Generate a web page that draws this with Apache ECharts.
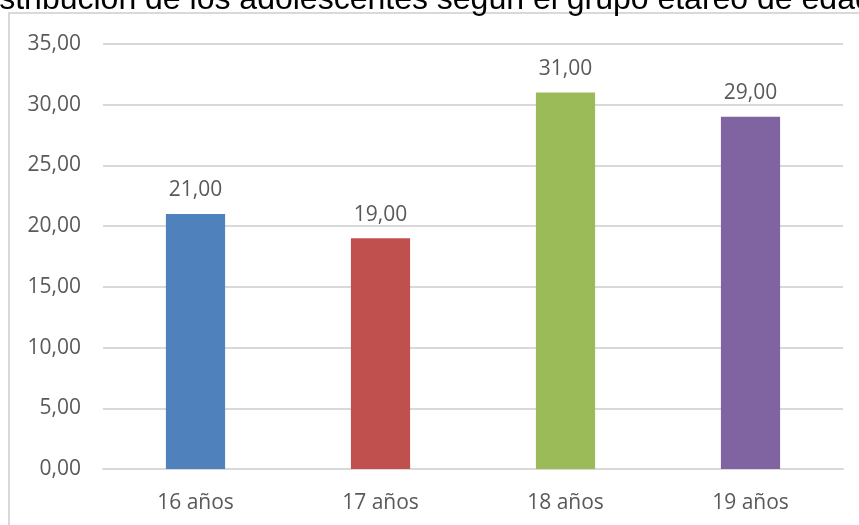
<!DOCTYPE html>
<html>
<head>
<meta charset="utf-8">
<script src="https://cdn.jsdelivr.net/npm/echarts@6/dist/echarts.min.js"></script>
<style>
  html, body { margin: 0; padding: 0; background: #fff; }
  #chart { width: 859px; height: 525px; }
</style>
</head>
<body>
<div id="chart"></div>
<script>
// data
const titleText = 'Distribución de los adolescentes según el grupo etáreo de edad';
const categories = ['16 años', '17 años', '18 años', '19 años'];
const values = [21, 19, 31, 29];
const barColors = ['#4F81BD', '#C0504D', '#9BBB59', '#8064A2'];
const yTicks = { min: 0, max: 35, interval: 5 };

const fmt = v => Number(v).toFixed(2).replace('.', ',');
const textColor = '#595959';
const gridColor = '#d9d9d9';
const font = '"Open Sans", sans-serif';

const chart = echarts.init(document.getElementById('chart'));

const option = {
    animation: false,
    backgroundColor: '#fff',
    grid: {
        left: 103,
        right: 16,
        top: 44,
        bottom: 56
    },
    graphic: [
        {
            // chart frame, only its left and top edges are on screen
            type: 'rect',
            shape: { x: 9, y: 13, width: 1200, height: 1200 },
            style: { fill: 'none', stroke: gridColor, lineWidth: 2 },
            z: 0
        },
        {
            type: 'text',
            x: -31,
            y: 0,
            style: {
                text: titleText,
                font: '32px "Liberation Sans", Arial, sans-serif',
                fill: '#000',
                verticalAlign: 'middle'
            },
            z: 10
        }
    ],
    xAxis: {
        type: 'category',
        data: categories,
        axisTick: { show: false },
        axisLine: { lineStyle: { color: gridColor, width: 2 } },
        axisLabel: {
            color: textColor,
            fontFamily: font,
            fontSize: 21,
            margin: 24
        }
    },
    yAxis: {
        type: 'value',
        min: yTicks.min,
        max: yTicks.max,
        interval: yTicks.interval,
        axisLine: { show: false },
        axisTick: { show: false },
        splitLine: { lineStyle: { color: gridColor, width: 2 } },
        axisLabel: {
            color: textColor,
            fontFamily: font,
            fontSize: 21,
            margin: 22,
            formatter: fmt
        }
    },
    series: [
        {
            type: 'bar',
            barWidth: '32%',
            data: values.map((v, i) => ({ value: v, itemStyle: { color: barColors[i] } })),
            label: {
                show: true,
                position: 'top',
                distance: 13,
                color: textColor,
                fontFamily: font,
                fontSize: 21,
                formatter: p => fmt(p.value)
            }
        }
    ]
};

chart.setOption(option);
</script>
</body>
</html>
